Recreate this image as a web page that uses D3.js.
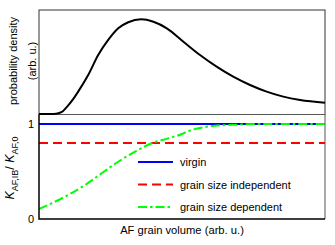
<!DOCTYPE html>
<html>
<head>
<meta charset="utf-8">
<script src="https://cdn.jsdelivr.net/npm/d3@7"></script>
<style>
  body { margin: 0; background: #fff; }
  text { font-family: "Liberation Sans", Arial, sans-serif; }
</style>
</head>
<body>
<div id="chart"></div>
<script>
// grain volume (arb. u.) sample points
var volume = [0, 0.4, 0.6, 0.8, 0.9, 1.0, 1.2, 1.37, 1.72, 2.07, 2.42, 2.77, 3.12, 3.57, 4.0, 4.47, 5.05, 5.63, 6.21, 6.79, 7.38, 7.96, 8.54, 9.13, 10];
var density = [0, 0, 0.003, 0.02, 0.045, 0.075, 0.145, 0.215, 0.375, 0.567, 0.712, 0.824, 0.882, 0.91, 0.887, 0.824, 0.695, 0.567, 0.455, 0.359, 0.279, 0.215, 0.167, 0.135, 0.109];

var gsdVolume = [0, 0.44, 1.02, 1.61, 2.19, 2.77, 3.36, 3.94, 4.52, 5.0, 5.17, 5.74, 6.33, 6.91, 7.7, 10];
var gsdRatio = [0.105, 0.165, 0.253, 0.358, 0.481, 0.603, 0.709, 0.797, 0.849, 0.895, 0.919, 0.965, 0.986, 0.993, 1.0, 1.0];

var virgin = 1.0;
var independent = 0.8;

var legendLabels = ["virgin", "grain size independent", "grain size dependent"];

var svgWidth = 335;
var svgHeight = 245;

var svg = d3.select("#chart")
  .append("svg")
  .attr("width", svgWidth)
  .attr("height", svgHeight);

var x = d3.scaleLinear().domain([0, 10]).range([39, 325]);
var yTop = d3.scaleLinear().domain([0, 1]).range([114, 10]);
var yBot = d3.scaleLinear().domain([0, 1.1]).range([219, 114.5]);

// top panel frame
svg.append("rect")
  .attr("x", 39).attr("y", 10)
  .attr("width", 286).attr("height", 104.5)
  .attr("fill", "none")
  .attr("stroke", "#333")
  .attr("stroke-width", 1);

// bottom panel frame (top / right thin)
svg.append("path")
  .attr("d", "M39,114.5 H325 V219")
  .attr("fill", "none")
  .attr("stroke", "#555")
  .attr("stroke-width", 1);

// density curve
var densLine = d3.line()
  .x((d, i) => x(volume[i]))
  .y(d => yTop(d))
  .curve(d3.curveMonotoneX);

svg.append("path")
  .datum(density)
  .attr("d", densLine)
  .attr("fill", "none")
  .attr("stroke", "#000")
  .attr("stroke-width", 2);

// bottom panel lines
svg.append("line")
  .attr("x1", x(0)).attr("x2", x(10))
  .attr("y1", yBot(virgin)).attr("y2", yBot(virgin))
  .attr("stroke", "#0000ff")
  .attr("stroke-width", 2);

svg.append("line")
  .attr("x1", x(0)).attr("x2", x(10))
  .attr("y1", yBot(independent)).attr("y2", yBot(independent))
  .attr("stroke", "#ff0000")
  .attr("stroke-width", 2)
  .attr("stroke-dasharray", "9,5");

var gsdLine = d3.line()
  .x((d, i) => x(gsdVolume[i]))
  .y(d => yBot(d))
  .curve(d3.curveMonotoneX);

svg.append("path")
  .datum(gsdRatio)
  .attr("d", gsdLine)
  .attr("fill", "none")
  .attr("stroke", "#00ff00")
  .attr("stroke-width", 2)
  .attr("stroke-dasharray", "9,3,2.5,3");

// bottom axes
var leftAxis = d3.axisLeft(yBot).tickValues([0, 1]).tickSize(0).tickPadding(5).tickFormat(d3.format("d"));
var gy = svg.append("g")
  .attr("transform", "translate(39,0)")
  .call(leftAxis);
gy.select(".domain").remove();
gy.selectAll("text")
  .attr("font-family", "Liberation Sans, Arial, sans-serif")
  .attr("font-size", 11)
  .attr("fill", "#000");

svg.append("path")
  .attr("d", "M39,114.5 V219 H325")
  .attr("fill", "none")
  .attr("stroke", "#000")
  .attr("stroke-width", 1.5);

// legend
var legendColors = ["#0000ff", "#ff0000", "#00ff00"];
var legendDash = [null, "9,5", "9,3,2.5,3"];
var legendY = [162, 184.5, 207];

var legend = svg.append("g");
legendLabels.forEach(function (label, i) {
  legend.append("line")
    .attr("x1", 138).attr("x2", 173)
    .attr("y1", legendY[i]).attr("y2", legendY[i])
    .attr("stroke", legendColors[i])
    .attr("stroke-width", 2)
    .attr("stroke-dasharray", legendDash[i]);
  legend.append("text")
    .attr("x", 180)
    .attr("y", legendY[i] + 4)
    .attr("font-size", 11)
    .attr("fill", "#000")
    .text(label);
});

// axis labels
svg.append("text")
  .attr("x", 182)
  .attr("y", 234)
  .attr("text-anchor", "middle")
  .attr("font-size", 11.2)
  .text("AF grain volume (arb. u.)");

svg.append("text")
  .attr("transform", "translate(17,61) rotate(-90)")
  .attr("text-anchor", "middle")
  .attr("font-size", 11)
  .text("probability density");

svg.append("text")
  .attr("transform", "translate(36,61) rotate(-90)")
  .attr("text-anchor", "middle")
  .attr("font-size", 11)
  .text("(arb. u.)");

var kLabel = svg.append("text")
  .attr("transform", "translate(14,168) rotate(-90)")
  .attr("text-anchor", "middle")
  .attr("font-size", 12.5);
kLabel.append("tspan").attr("font-style", "italic").text("K");
kLabel.append("tspan").attr("font-size", 9).attr("dy", 3.5).text("AF,IB");
kLabel.append("tspan").attr("dy", -3.5).text("/ ");
kLabel.append("tspan").attr("font-style", "italic").text("K");
kLabel.append("tspan").attr("font-size", 9).attr("dy", 3.5).text("AF,0");
</script>
</body>
</html>
